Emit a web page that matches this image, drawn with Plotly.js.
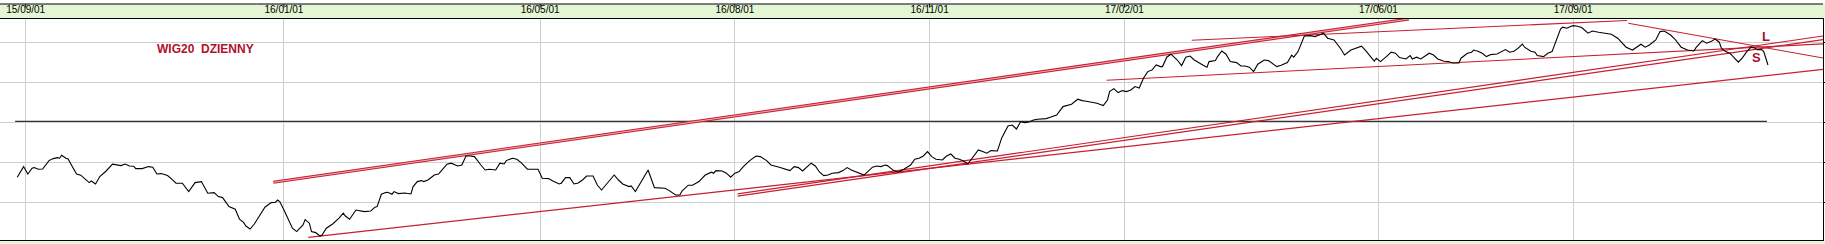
<!DOCTYPE html>
<html>
<head>
<meta charset="utf-8">
<script src="https://cdn.plot.ly/plotly-3.0.1.min.js"></script>
<style>html,body{margin:0;padding:0;background:#fff;}#chart{width:1825px;height:244px;}</style>
</head>
<body>
<div id="chart"></div>
<script>
// ---- data (WIG20 daily close) ----
const dates = [
'2015-08-28','2015-08-31','2015-09-02','2015-09-04','2015-09-05','2015-09-07','2015-09-09','2015-09-10','2015-09-12','2015-09-14',
'2015-09-16','2015-09-17','2015-09-18','2015-09-20','2015-09-21','2015-09-23','2015-09-25','2015-09-27','2015-09-29','2015-10-01',
'2015-10-02','2015-10-04','2015-10-06','2015-10-09','2015-10-12','2015-10-14','2015-10-16','2015-10-18','2015-10-20','2015-10-22',
'2015-10-23','2015-10-26','2015-10-29','2015-10-31','2015-11-02','2015-11-04','2015-11-07','2015-11-09','2015-11-11','2015-11-14',
'2015-11-17','2015-11-20','2015-11-23','2015-11-26','2015-11-29','2015-12-01','2015-12-03','2015-12-06','2015-12-09','2015-12-11',
'2015-12-13','2015-12-14','2015-12-16','2015-12-18','2015-12-21','2015-12-23','2015-12-26','2015-12-28','2015-12-29','2015-12-30',
'2016-01-01','2016-01-03','2016-01-05','2016-01-07','2016-01-10','2016-01-11','2016-01-13','2016-01-14','2016-01-16','2016-01-18',
'2016-01-19','2016-01-21','2016-01-22','2016-01-24','2016-01-27','2016-01-29','2016-01-30','2016-02-01','2016-02-04','2016-02-06',
'2016-02-08','2016-02-11','2016-02-13','2016-02-14','2016-02-16','2016-02-18','2016-02-19','2016-02-21','2016-02-22','2016-02-24',
'2016-02-26','2016-02-27','2016-03-01','2016-03-02','2016-03-04','2016-03-06','2016-03-07','2016-03-09','2016-03-12','2016-03-14',
'2016-03-16','2016-03-18','2016-03-20','2016-03-23','2016-03-25','2016-03-27','2016-03-29','2016-03-31','2016-04-03','2016-04-05',
'2016-04-07','2016-04-10','2016-04-12','2016-04-14','2016-04-15','2016-04-18','2016-04-20','2016-04-22','2016-04-25','2016-04-30',
'2016-05-02','2016-05-05','2016-05-07','2016-05-10','2016-05-11','2016-05-13','2016-05-15','2016-05-17','2016-05-19','2016-05-21',
'2016-05-23','2016-05-26','2016-05-28','2016-05-30','2016-06-01','2016-06-05','2016-06-07','2016-06-09','2016-06-12','2016-06-13',
'2016-06-15','2016-06-17','2016-06-21','2016-06-24','2016-06-27','2016-06-29','2016-07-01','2016-07-04','2016-07-06','2016-07-07',
'2016-07-10','2016-07-12','2016-07-15','2016-07-18','2016-07-21','2016-07-22','2016-07-23','2016-07-26','2016-07-28','2016-07-30',
'2016-08-01','2016-08-03','2016-08-05','2016-08-08','2016-08-11','2016-08-13','2016-08-16','2016-08-18','2016-08-22','2016-08-25',
'2016-08-27','2016-08-29','2016-08-31','2016-09-02','2016-09-04','2016-09-06','2016-09-08','2016-09-10','2016-09-12','2016-09-14',
'2016-09-16','2016-09-19','2016-09-21','2016-09-23','2016-09-25','2016-09-28','2016-10-01','2016-10-02','2016-10-05','2016-10-07',
'2016-10-09','2016-10-11','2016-10-12','2016-10-15','2016-10-17','2016-10-20','2016-10-23','2016-10-25','2016-10-27','2016-10-29',
'2016-10-31','2016-11-02','2016-11-04','2016-11-07','2016-11-09','2016-11-11','2016-11-13','2016-11-15','2016-11-17','2016-11-19',
'2016-11-21','2016-11-24','2016-11-26','2016-11-28','2016-11-30','2016-12-03','2016-12-05','2016-12-08','2016-12-10','2016-12-12',
'2016-12-14','2016-12-16','2016-12-18','2016-12-20','2016-12-22','2016-12-24','2016-12-26','2016-12-28','2016-12-31','2017-01-03',
'2017-01-06','2017-01-07','2017-01-10','2017-01-12','2017-01-14','2017-01-17','2017-01-19','2017-01-22','2017-01-24','2017-01-25',
'2017-01-27','2017-01-29','2017-01-31','2017-02-02','2017-02-04','2017-02-06','2017-02-08','2017-02-10','2017-02-12','2017-02-14',
'2017-02-16','2017-02-18','2017-02-19','2017-02-21','2017-02-23','2017-02-26','2017-02-28','2017-03-02','2017-03-04','2017-03-06',
'2017-03-09','2017-03-10','2017-03-12','2017-03-13','2017-03-16','2017-03-17','2017-03-19','2017-03-21','2017-03-23','2017-03-26',
'2017-03-28','2017-03-30','2017-04-01','2017-04-03','2017-04-05','2017-04-08','2017-04-10','2017-04-12','2017-04-14','2017-04-16',
'2017-04-19','2017-04-21','2017-04-22','2017-04-24','2017-04-26','2017-04-27','2017-04-30','2017-05-02','2017-05-04','2017-05-06',
'2017-05-08','2017-05-11','2017-05-14','2017-05-16','2017-05-19','2017-05-22','2017-05-24','2017-05-26','2017-05-28','2017-05-30',
'2017-05-31','2017-06-02','2017-06-05','2017-06-07','2017-06-09','2017-06-11','2017-06-14','2017-06-16','2017-06-17','2017-06-19',
'2017-06-21','2017-06-25','2017-06-27','2017-06-29','2017-07-02','2017-07-04','2017-07-06','2017-07-09','2017-07-10','2017-07-13',
'2017-07-15','2017-07-16','2017-07-18','2017-07-20','2017-07-22','2017-07-24','2017-07-27','2017-07-29','2017-07-31','2017-08-02',
'2017-08-04','2017-08-06','2017-08-08','2017-08-09','2017-08-12','2017-08-14','2017-08-15','2017-08-18','2017-08-20','2017-08-22',
'2017-08-24','2017-08-26','2017-08-27','2017-08-29','2017-08-31','2017-09-01','2017-09-03','2017-09-05','2017-09-08','2017-09-10',
'2017-09-13','2017-09-16','2017-09-19','2017-09-22','2017-09-24','2017-09-26','2017-09-29','2017-10-01','2017-10-03','2017-10-05',
'2017-10-07','2017-10-10','2017-10-12','2017-10-14','2017-10-17','2017-10-19','2017-10-21','2017-10-22','2017-10-25','2017-10-28',
'2017-10-29','2017-11-01','2017-11-03','2017-11-05','2017-11-07','2017-11-09','2017-11-10','2017-11-12','2017-11-14','2017-11-16',
'2017-11-18','2017-11-20','2017-11-22','2017-11-24','2017-11-26','2017-11-27','2017-11-29','2017-11-30','2017-12-02'
];
const wig20 = [
1924,1977,1940,1969,1972,1964,1965,1980,2007,2017,
2022,2019,2034,2019,2015,1977,1940,1934,1914,1897,
1905,1890,1927,1955,1989,1987,1982,1990,1980,1979,
1967,1967,1977,1974,1940,1942,1932,1914,1894,1894,
1852,1897,1902,1844,1847,1827,1822,1777,1764,1714,
1697,1680,1665,1690,1739,1774,1797,1799,1810,1802,
1760,1710,1669,1652,1685,1712,1694,1652,1647,1630,
1635,1669,1677,1690,1719,1744,1730,1714,1760,1755,
1752,1755,1774,1777,1839,1847,1849,1839,1852,1842,
1844,1845,1840,1877,1902,1907,1902,1910,1935,1940,
1964,1989,1994,1980,1985,2030,2030,2027,1985,1960,
1964,1960,1994,1990,2007,2019,2014,1997,1964,1964,
1919,1917,1905,1890,1894,1922,1922,1890,1895,1910,
1930,1930,1885,1860,1885,1935,1910,1890,1877,1880,
1852,1889,1960,1872,1872,1869,1857,1835,1835,1855,
1884,1884,1902,1935,1949,1944,1957,1955,1944,1924,
1944,1952,1977,2007,2030,2027,2007,1985,1974,1964,
1957,1977,1972,1955,1977,1994,1980,1949,1932,1935,
1944,1947,1957,1972,1960,1947,1935,1944,1974,1980,
1977,1985,1982,1957,1949,1965,1985,2014,2019,2030,
2052,2027,2014,2010,2030,2040,2019,2014,2005,1990,
2019,2060,2052,2044,2057,2055,2119,2180,2185,2165,
2202,2197,2200,2210,2214,2217,2217,2224,2235,2277,
2285,2289,2314,2307,2304,2299,2294,2282,2310,2352,
2367,2347,2357,2352,2360,2377,2370,2419,2452,2460,
2485,2477,2477,2524,2539,2510,2482,2524,2530,2510,
2489,2485,2474,2502,2507,2527,2555,2539,2502,2497,
2480,2480,2474,2452,2489,2510,2507,2494,2477,2484,
2497,2534,2524,2552,2610,2630,2632,2627,2635,2644,
2619,2610,2569,2535,2560,2570,2579,2557,2532,2504,
2519,2502,2529,2549,2544,2522,2515,2532,2515,2524,
2515,2544,2535,2515,2504,2502,2495,2495,2519,2544,
2549,2560,2554,2544,2527,2537,2540,2549,2562,2549,
2554,2569,2590,2574,2554,2549,2532,2527,2544,2552,
2607,2665,2674,2669,2679,2682,2679,2672,2644,2655,
2649,2644,2639,2619,2594,2574,2560,2574,2589,2574,
2585,2610,2652,2655,2635,2615,2585,2574,2560,2555,
2572,2607,2594,2602,2615,2599,2569,2552,2544,2524,
2499,2522,2552,2574,2569,2562,2562,2552,2485
];

// trend lines (start / end)
const upperChannelX = ['2015-12-26 23:00', '2017-06-15 10:00'];
const upperChannelY = [1898.5, 2715];
const lowerChannelX = ['2016-01-12 12:00', '2017-12-28 22:00'];
const lowerChannelY = [1623.5, 2464.5];
const supportAX = ['2016-08-02 07:00', '2017-12-28 22:00'];
const supportAY = [1841, 2631.5];
const supportBX = ['2016-08-02 07:00', '2017-12-28 22:00'];
const supportBY = [1829, 2613.5];
const flatLineX = ['2017-01-23 14:00', '2017-12-28 22:00'];
const flatLineY = [2408.5, 2591];
const roofUpX = ['2017-03-04 19:00', '2017-09-26 10:00'];
const roofUpY = [2608.5, 2707.5];
const roofDownX = ['2017-09-27 00:00', '2017-12-28 22:00'];
const roofDownY = [2693.5, 2518.5];
const levelX = ['2015-08-27', '2017-12-01 12:00'];
const levelY = [2203.5, 2203.5];

const tickDates = ['2015-09-01','2016-01-01','2016-05-01','2016-08-01','2016-11-01','2017-02-01','2017-06-01','2017-09-01'];
const tickLabels = ['15/09/01','16/01/01','16/05/01','16/08/01','16/11/01','17/02/01','17/06/01','17/09/01'];
const gridValues = [1800, 2000, 2200, 2400, 2600];

// ---- styling ----
const RED = '#c81e30';
const PINK = '#f2bcbc';
const FONT = 'Liberation Sans, Arial, sans-serif';

function line(x, y, color, width) {
  return {x: x, y: y, type: 'scatter', mode: 'lines', hoverinfo: 'skip',
          line: {color: color, width: width}, showlegend: false};
}

const traces = [
  line(levelX, levelY, '#000000', 1),
  line(upperChannelX, upperChannelY, RED, 3.1),
  line(upperChannelX, upperChannelY, PINK, 0.9),
  line(lowerChannelX, lowerChannelY, RED, 1.25),
  line(supportAX, supportAY, RED, 1.2),
  line(supportBX, supportBY, RED, 1.2),
  line(flatLineX, flatLineY, RED, 1.1),
  line(roofUpX, roofUpY, RED, 1.1),
  line(roofDownX, roofDownY, RED, 1.1),
  line(dates, wig20, '#000000', 1.1)
];

// paper y for a pixel row (plot area spans rows 19..240)
const PT = 19, PB = 240, PH = PB - PT;
const py = r => (PB - r) / PH;

const shapes = [
  {type: 'rect', xref: 'paper', yref: 'paper', x0: 0, x1: 1.002, y0: 1, y1: py(4),
   fillcolor: '#e4f6d4', line: {width: 0}, layer: 'below'},
  {type: 'rect', xref: 'paper', yref: 'paper', x0: 0, x1: 1.002, y0: py(244), y1: 0,
   fillcolor: '#e4f6d4', line: {width: 0}, layer: 'below'},
  {type: 'line', xref: 'paper', yref: 'paper', x0: 0, x1: 1, y0: py(4), y1: py(4),
   line: {color: '#000000', width: 1}}
];
tickDates.forEach(d => shapes.push({type: 'line', xref: 'x', yref: 'paper', x0: d, x1: d,
  y0: py(4), y1: py(7.5), line: {color: '#000000', width: 1}}));

const layout = {
  width: 1825, height: 244, autosize: false,
  margin: {l: 0, r: 2, t: PT, b: 4, pad: 0},
  paper_bgcolor: '#ffffff', plot_bgcolor: '#ffffff',
  showlegend: false,
  xaxis: {
    type: 'date', side: 'top',
    range: ['2015-08-19 20:38', '2017-12-27 23:45'],
    tickmode: 'array', tickvals: tickDates, ticktext: tickLabels,
    ticks: '', ticklabelstandoff: 1,
    tickfont: {family: FONT, size: 10, color: '#000000'},
    showgrid: true, gridcolor: '#cfcfcf', gridwidth: 1,
    showline: true, linecolor: '#000000', linewidth: 1, mirror: true,
    zeroline: false, fixedrange: true
  },
  yaxis: {
    side: 'right', range: [1610, 2715],
    tickmode: 'array', tickvals: gridValues, showticklabels: false,
    ticks: 'outside', ticklen: 2, tickcolor: '#000000',
    showgrid: true, gridcolor: '#cfcfcf', gridwidth: 1,
    showline: true, linecolor: '#000000', linewidth: 1, mirror: false,
    zeroline: false, fixedrange: true
  },
  shapes: shapes,
  annotations: [
    {text: 'WIG20  DZIENNY', xref: 'paper', yref: 'paper', x: 205.8 / 1823, y: py(49),
     showarrow: false, xanchor: 'center', yanchor: 'middle',
     font: {family: FONT, size: 12, color: '#b0112b', weight: 'bold'}},
    {text: 'L', xref: 'paper', yref: 'paper', x: 1765.7 / 1823, y: py(36.7),
     showarrow: false, xanchor: 'center', yanchor: 'middle',
     font: {family: FONT, size: 13, color: '#a8102a', weight: 'bold'}},
    {text: 'S', xref: 'paper', yref: 'paper', x: 1756 / 1823, y: py(57.7),
     showarrow: false, xanchor: 'center', yanchor: 'middle',
     font: {family: FONT, size: 13, color: '#a8102a', weight: 'bold'}}
  ]
};

Plotly.newPlot('chart', traces, layout, {staticPlot: true, displayModeBar: false});
</script>
</body>
</html>
